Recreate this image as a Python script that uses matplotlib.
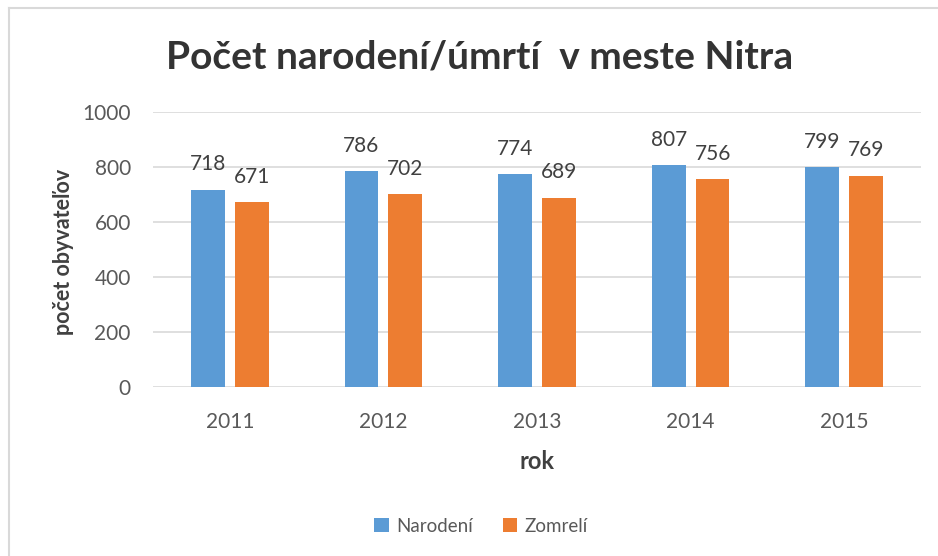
import matplotlib.pyplot as plt
from matplotlib.lines import Line2D
import numpy as np

plt.rcParams['font.family'] = ['Lato', 'DejaVu Sans']

years = ['2011', '2012', '2013', '2014', '2015']
narodeni = [718, 786, 774, 807, 799]
zomreli = [671, 702, 689, 756, 769]

blue = '#5b9bd5'
orange = '#ed7d31'
txt = '#595959'

fig = plt.figure(figsize=(9.38, 5.56), dpi=100)
ax = fig.add_axes([153 / 938, 1 - 387 / 556, 768 / 938, 275 / 556])

x = np.arange(len(years))
w = 0.22
off = 0.143
b1 = ax.bar(x - off, narodeni, w, color=blue, label='Narodení', zorder=3)
b2 = ax.bar(x + off, zomreli, w, color=orange, label='Zomrelí', zorder=3)
ax.bar_label(b1, padding=11, fontsize=15, color='#404040')
ax.bar_label(b2, padding=11, fontsize=15, color='#404040')

ax.set_xlim(-0.5, len(years) - 0.5)
ax.set_ylim(0, 1000)
ax.set_yticks(range(0, 1001, 200))
ax.set_xticks(x)
ax.set_xticklabels(years)
ax.tick_params(axis='both', length=0, labelsize=15, labelcolor=txt)
ax.tick_params(axis='x', pad=18)
ax.tick_params(axis='y', pad=16)
ax.grid(axis='y', color='#d9d9d9', linewidth=1.2, zorder=0)
for s in ax.spines.values():
    s.set_visible(False)

ax.set_xlabel('rok', fontsize=17, fontweight='bold', color='#404040')
ax.xaxis.set_label_coords(0.5, -(450 - 387) / 275)
# y label placed in figure coords so it sits close to the tick labels
fig.text(63 / 938, 1 - 252 / 556, 'počet obyvateľov', rotation=90, ha='center', va='center',
         fontsize=15.5, fontweight='bold', color='#404040')

fig.text(480 / 938, 1 - 57 / 556, 'Počet narodení/úmrtí  v meste Nitra', ha='center', va='center',
         fontsize=28, fontweight='bold', color='#333333')

fig.legend(handles=[b1, b2], loc='center', bbox_to_anchor=(481 / 938, 1 - 526 / 556), ncol=2,
           frameon=False, fontsize=13.5, handlelength=0.75, handleheight=0.75, columnspacing=1.6,
           handletextpad=0.4, labelcolor=txt)

# chart frame (only top and left edges visible)
fig.add_artist(Line2D([9 / 938, 1], [1 - 8 / 556, 1 - 8 / 556], color='#d9d9d9', linewidth=1.5,
                      transform=fig.transFigure))
fig.add_artist(Line2D([9 / 938, 9 / 938], [0, 1 - 8 / 556], color='#d9d9d9', linewidth=1.5,
                      transform=fig.transFigure))

fig.savefig('out.png', dpi=100)
